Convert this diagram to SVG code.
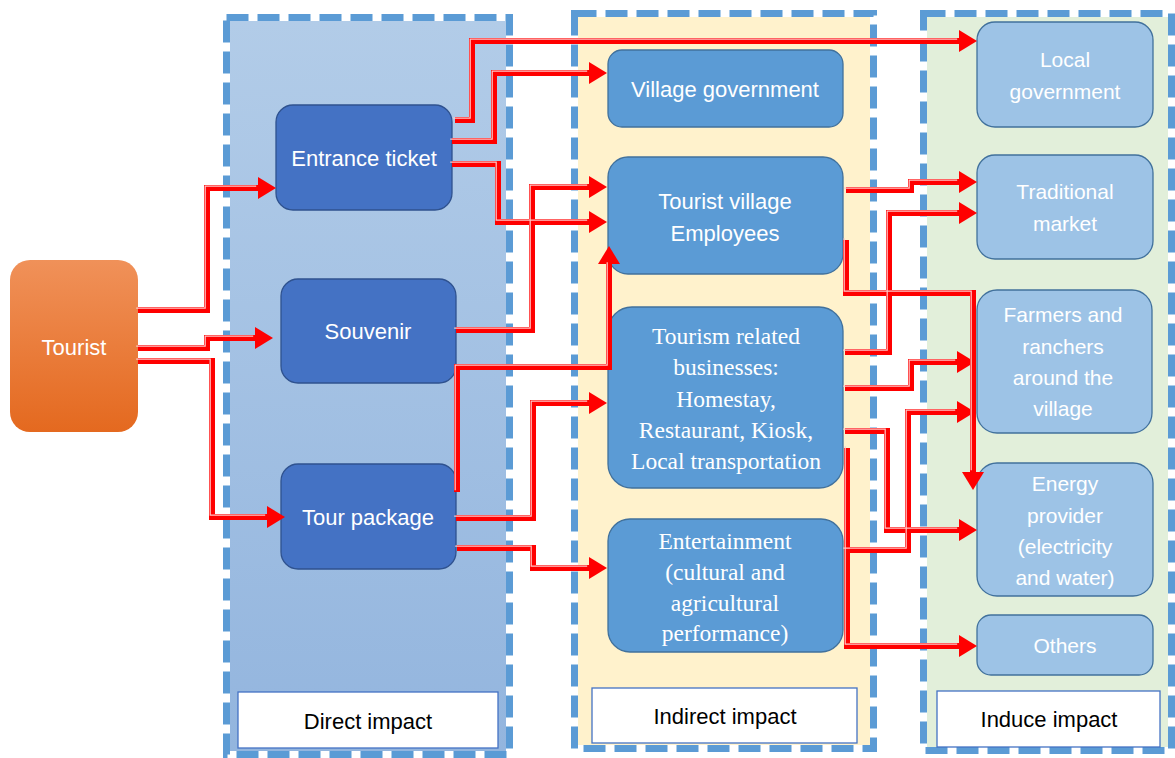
<svg xmlns="http://www.w3.org/2000/svg" width="1175" height="758" viewBox="0 0 1175 758">
<defs>
<linearGradient id="gDirect" x1="0" y1="0" x2="0" y2="1"><stop offset="0" stop-color="#b2cce8"/><stop offset="1" stop-color="#93b5de"/></linearGradient>
<linearGradient id="gTourist" x1="0" y1="0" x2="0" y2="1"><stop offset="0" stop-color="#f09159"/><stop offset="1" stop-color="#e4691f"/></linearGradient>
<marker id="ah" markerUnits="userSpaceOnUse" markerWidth="19" markerHeight="22" refX="0" refY="11" orient="auto" overflow="visible"><path d="M0,0 L18,11 L0,22 z" fill="#ff0000"/></marker>
<path id="c1" d="M138 310 H207 V188 H258"/>
<path id="c2" d="M138 348 H207 V338 H255"/>
<path id="c3" d="M138 361 H212 V517 H267"/>
<path id="c4" d="M455 120 H472 V41 H959"/>
<path id="c5" d="M452 141 H494 V73 H589"/>
<path id="c6" d="M452 164 H498 V222 H589"/>
<path id="c7" d="M456 330 H532 V187 H589"/>
<path id="c8" d="M457 492 V367 H609 V264"/>
<path id="c9" d="M456 518 H533 V403 H589"/>
<path id="c10" d="M457 548 H533 V568 H589"/>
<path id="c11" d="M846 190 H911 V182 H959"/>
<path id="c12" d="M845 352 H889 V213 H959"/>
<path id="c13" d="M846 240 V293 H973 V472"/>
<path id="c14" d="M845 388 H911 V362 H957"/>
<path id="c15" d="M845 550 H908 V412 H957"/>
<path id="c16" d="M845 431 H887 V530 H959"/>
<path id="c17" d="M847 448 V646 H959"/>
</defs>
<style>
.pb{fill:none;stroke:#5b9bd5;stroke-width:7;stroke-dasharray:22 9}
.lab{fill:#fff;stroke:#4472c4;stroke-width:1.3}
.labt{font-family:"Liberation Sans",Arial,sans-serif;font-size:22px;fill:#000;text-anchor:middle}
.n1{fill:#4472c4;stroke:#2f528f;stroke-width:1.3}
.n2{fill:#5b9bd5;stroke:#41719c;stroke-width:1.3}
.n3{fill:#9dc3e6;stroke:#41719c;stroke-width:1.3}
.t{font-family:"Liberation Sans",Arial,sans-serif;font-size:22px;fill:#fff;text-anchor:middle}
.t3{font-family:"Liberation Sans",Arial,sans-serif;font-size:21px;fill:#fff;text-anchor:middle}
.ts{font-family:"Liberation Serif","Times New Roman",serif;font-size:23.5px;fill:#fff;text-anchor:middle}
.w{fill:none;stroke:#ff0000;stroke-width:6;marker-end:url(#ah)}
.hl{fill:none;stroke:#ffc8c8;stroke-width:1.2}
</style>
<rect width="1175" height="758" fill="#ffffff"/>
<g id="panel-direct">
<rect x="230" y="21" width="276" height="730" fill="url(#gDirect)"/>
<rect class="pb" x="226.5" y="17.5" width="283" height="737"/>
<rect class="lab" x="238" y="692" width="260" height="56"/>
<text class="labt" x="368" y="729">Direct impact</text>
</g>
<g id="panel-indirect">
<rect x="578" y="17" width="292" height="728" fill="#fff2cc"/>
<rect class="pb" x="574.5" y="13.5" width="299" height="735"/>
<rect class="lab" x="592" y="688" width="265" height="55"/>
<text class="labt" x="725" y="724">Indirect impact</text>
</g>
<g id="panel-induce">
<rect x="927" y="17" width="241" height="730" fill="#e2efda"/>
<rect class="pb" x="923.5" y="13.5" width="248" height="737"/>
<rect class="lab" x="937" y="691" width="223" height="56"/>
<text class="labt" x="1049" y="727">Induce impact</text>
</g>
<g id="tourist">
<rect x="10" y="260" width="128" height="172" rx="20" fill="url(#gTourist)"/>
<text class="t" x="74" y="355">Tourist</text>
</g>
<g id="entrance-ticket">
<rect class="n1" x="276" y="105" width="176" height="105" rx="17"/>
<text class="t" x="364" y="166">Entrance ticket</text>
</g>
<g id="souvenir">
<rect class="n1" x="281" y="279" width="175" height="104" rx="17"/>
<text class="t" x="368" y="339">Souvenir</text>
</g>
<g id="tour-package">
<rect class="n1" x="281" y="464" width="175" height="105" rx="17"/>
<text class="t" x="368" y="525">Tour package</text>
</g>
<g id="village-government">
<rect class="n2" x="608" y="50" width="235" height="77" rx="14"/>
<text class="t" x="725" y="97">Village government</text>
</g>
<g id="tourist-village-employees">
<rect class="n2" x="608" y="157" width="235" height="117" rx="20"/>
<text class="t" x="725" y="209">Tourist village</text>
<text class="t" x="725" y="241">Employees</text>
</g>
<g id="tourism-businesses">
<rect class="n2" x="608" y="307" width="235" height="181" rx="24"/>
<text class="ts" x="726" y="344">Tourism related</text>
<text class="ts" x="726" y="375">businesses:</text>
<text class="ts" x="726" y="407">Homestay,</text>
<text class="ts" x="726" y="438">Restaurant, Kiosk,</text>
<text class="ts" x="726" y="469">Local transportation</text>
</g>
<g id="entertainment">
<rect class="n2" x="608" y="519" width="235" height="133" rx="22"/>
<text class="ts" x="725" y="549">Entertainment</text>
<text class="ts" x="725" y="580">(cultural and</text>
<text class="ts" x="725" y="611">agricultural</text>
<text class="ts" x="725" y="641">performance)</text>
</g>
<g id="local-government">
<rect class="n3" x="977" y="22" width="176" height="105" rx="18"/>
<text class="t3" x="1065" y="67">Local</text>
<text class="t3" x="1065" y="99">government</text>
</g>
<g id="traditional-market">
<rect class="n3" x="977" y="155" width="176" height="104" rx="18"/>
<text class="t3" x="1065" y="199">Traditional</text>
<text class="t3" x="1065" y="231">market</text>
</g>
<g id="farmers-ranchers">
<rect class="n3" x="977" y="290" width="175" height="143" rx="20"/>
<text class="t3" x="1063" y="322">Farmers and</text>
<text class="t3" x="1063" y="354">ranchers</text>
<text class="t3" x="1063" y="385">around the</text>
<text class="t3" x="1063" y="416">village</text>
</g>
<g id="energy-provider">
<rect class="n3" x="977" y="463" width="176" height="133" rx="20"/>
<text class="t3" x="1065" y="491">Energy</text>
<text class="t3" x="1065" y="523">provider</text>
<text class="t3" x="1065" y="554">(electricity</text>
<text class="t3" x="1065" y="585">and water)</text>
</g>
<g id="others">
<rect class="n3" x="977" y="615" width="176" height="60" rx="14"/>
<text class="t3" x="1065" y="653">Others</text>
</g>
<g id="connectors">
<g class="w">
<use href="#c1"/><use href="#c2"/><use href="#c3"/><use href="#c4"/><use href="#c5"/><use href="#c6"/><use href="#c7"/><use href="#c8"/><use href="#c9"/><use href="#c10"/><use href="#c11"/><use href="#c12"/><use href="#c13"/><use href="#c14"/><use href="#c15"/><use href="#c16"/><use href="#c17"/>
</g>
<g class="hl" transform="translate(-1.8,-1.8)">
<use href="#c1"/><use href="#c2"/><use href="#c3"/><use href="#c4"/><use href="#c5"/><use href="#c6"/><use href="#c7"/><use href="#c8"/><use href="#c9"/><use href="#c10"/><use href="#c11"/><use href="#c12"/><use href="#c13"/><use href="#c14"/><use href="#c15"/><use href="#c16"/><use href="#c17"/>
</g>
</g>
</svg>
